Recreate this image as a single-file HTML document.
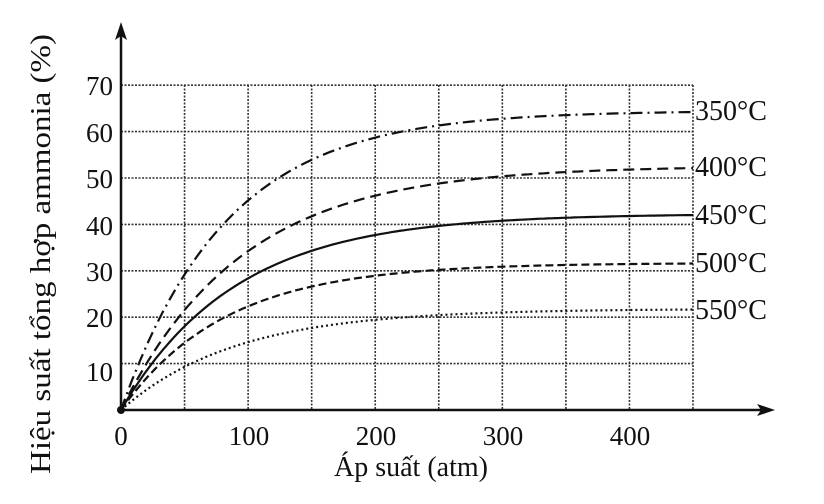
<!DOCTYPE html>
<html><head><meta charset="utf-8"><style>
html,body{margin:0;padding:0;background:#fff;width:824px;height:504px;overflow:hidden}
svg{display:block}
text{font-family:"Liberation Serif",serif;fill:#111}
</style></head><body>
<svg id="s" width="824" height="504" viewBox="0 0 824 504">
<g id="grid" stroke="#333" stroke-width="1.6" stroke-dasharray="2 1.5" fill="none"></g>
<g id="curves" stroke="#111" stroke-width="2.2" fill="none"></g>
<line x1="121" y1="410" x2="121" y2="30" stroke="#111" stroke-width="2.5"/>
<polygon points="121,22 115,40 121,36 127,40" fill="#111"/>
<line x1="121" y1="410" x2="765" y2="410" stroke="#111" stroke-width="2.5"/>
<polygon points="775,410 757,404 761,410 757,416" fill="#111"/>
<circle cx="121" cy="410" r="4" fill="#111"/>
<g font-size="27" text-anchor="end">
<text x="113" y="95">70</text><text x="113" y="142">60</text><text x="113" y="188">50</text>
<text x="113" y="235">40</text><text x="113" y="281">30</text><text x="113" y="327">20</text>
<text x="113" y="381">10</text>
</g>
<g font-size="27" text-anchor="middle">
<text x="121" y="445">0</text><text x="249" y="445">100</text><text x="376" y="445">200</text>
<text x="503" y="445">300</text><text x="630" y="445">400</text>
</g>
<text x="411" y="476" font-size="28" text-anchor="middle">Áp suất (atm)</text>
<text transform="translate(50,254) rotate(-90)" font-size="29" text-anchor="middle" textLength="440" lengthAdjust="spacingAndGlyphs">Hiệu suất tổng hợp ammonia (%)</text>
<g font-size="28">
<text x="695" y="120">350°C</text><text x="695" y="176">400°C</text>
<text x="695" y="224">450°C</text><text x="695" y="272">500°C</text>
<text x="695" y="319">550°C</text>
</g>
</svg>
<script>
var ns="http://www.w3.org/2000/svg";
function X(p){return 121+p*1.2711}
function Y(v){return 410-v*4.64}
var g=document.getElementById('grid');
function ln(x1,y1,x2,y2){var l=document.createElementNS(ns,'line');l.setAttribute('x1',x1);l.setAttribute('y1',y1);l.setAttribute('x2',x2);l.setAttribute('y2',y2);g.appendChild(l);}
for(var i=1;i<=9;i++){ln(X(i*50),85,X(i*50),410);}
for(var j=1;j<=7;j++){ln(121,Y(j*10),X(450),Y(j*10));}
var c=document.getElementById('curves');
var S=[[64.5,83,"12 5 2 5"],[52.6,95,"11 6"],[42.3,90,""],[31.7,82,"8 4"],[21.8,90,"2 3"]];
S.forEach(function(s){var d="";for(var p=0;p<=450;p+=3){var v=s[0]*(1-Math.exp(-p/s[1]));d+=(p?"L":"M")+X(p).toFixed(1)+","+Y(v).toFixed(1);}
var e=document.createElementNS(ns,'path');e.setAttribute('d',d);if(s[2])e.setAttribute('stroke-dasharray',s[2]);c.appendChild(e);});
</script>
</body></html>
